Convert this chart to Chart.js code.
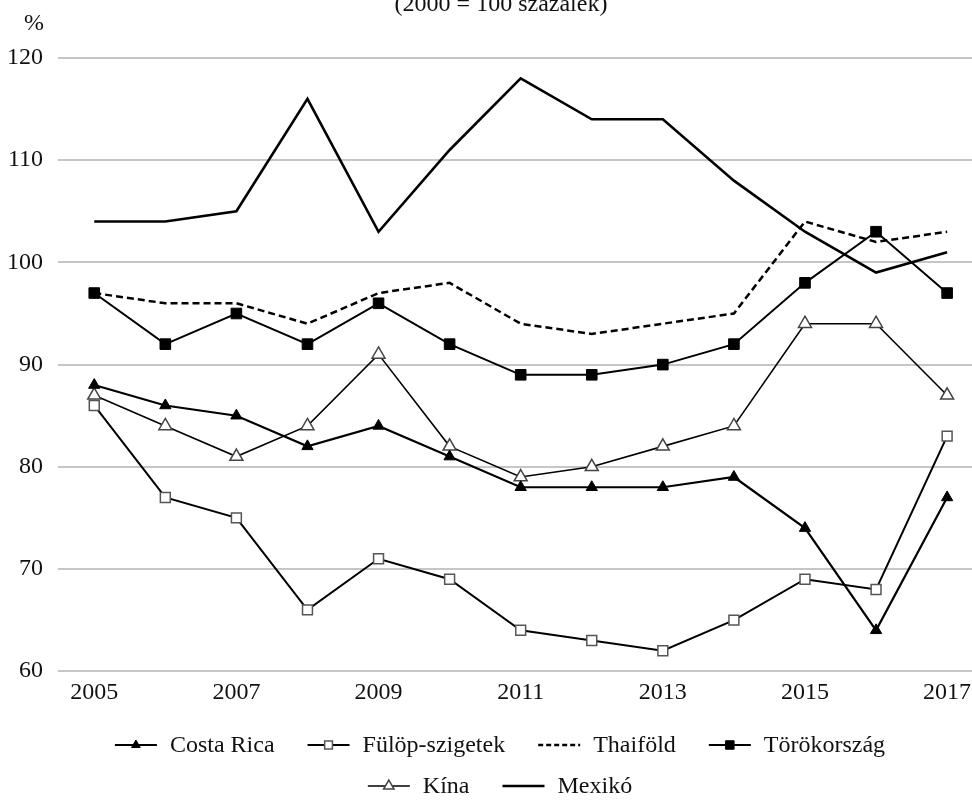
<!DOCTYPE html>
<html>
<head>
<meta charset="utf-8">
<script src="https://cdn.jsdelivr.net/npm/chart.js@4/dist/chart.umd.min.js"></script>
<style>
    html, body { margin: 0; padding: 0; background: #ffffff; }
    #wrap { width: 972px; height: 804px; position: relative; }
</style>
</head>
<body>
<div id="wrap"><canvas id="chart"></canvas></div>
<script>
const years = [2005, 2006, 2007, 2008, 2009, 2010, 2011, 2012, 2013, 2014, 2015, 2016, 2017];
const tickYears = [2005, 2007, 2009, 2011, 2013, 2015, 2017];

const costaRica = [88, 86, 85, 82, 84, 81, 78, 78, 78, 79, 74, 64, 77];
const fulopSzigetek = [86, 77, 75, 66, 71, 69, 64, 63, 62, 65, 69, 68, 83];
const thaifold = [97, 96, 96, 94, 97, 98, 94, 93, 94, 95, 104, 102, 103];
const torokorszag = [97, 92, 95, 92, 96, 92, 89, 89, 90, 92, 98, 103, 97];
const kina = [87, 84, 81, 84, 91, 82, 79, 80, 82, 84, 94, 94, 87];
const mexiko = [104, 104, 105, 116, 103, 111, 118, 114, 114, 108, 103, 99, 101];

const titleText = '(2000 = 100 százalék)';
const unitText = '%';

const FONT = '"Liberation Serif", "Times New Roman", serif';
const TEXT_SIZE = 24;

function points(values) {
    return values.map((v, i) => ({ x: years[i], y: v }));
}

function series(label, values, style) {
    return Object.assign({
        label: label,
        data: points(values),
        borderColor: '#000000',
        backgroundColor: '#000000',
        borderWidth: 2,
        pointBorderColor: '#000000',
        pointBorderWidth: 1,
        pointRadius: 0,
        pointHoverRadius: 0,
        tension: 0,
        fill: false
    }, style);
}

const datasets = [
    series('Costa Rica', costaRica, {
        borderWidth: 2.2, pointStyle: 'triangle', pointRadius: 6.5
    }),
    series('Fülöp-szigetek', fulopSzigetek, {
        borderWidth: 2, pointStyle: 'rect', pointRadius: 7,
        pointBackgroundColor: '#ffffff', pointBorderColor: '#555555', pointBorderWidth: 1.5
    }),
    series('Thaiföld', thaifold, {
        borderWidth: 2.5, borderDash: [7, 4]
    }),
    series('Törökország', torokorszag, {
        borderWidth: 2, pointStyle: 'rect', pointRadius: 7.5
    }),
    series('Kína', kina, {
        borderWidth: 1.6, pointStyle: 'triangle', pointRadius: 7.5,
        pointBackgroundColor: '#ffffff', pointBorderColor: '#444444', pointBorderWidth: 1.5
    }),
    series('Mexikó', mexiko, {
        borderWidth: 2.6
    })
];

// title, unit label and the two-row legend
const decorPlugin = {
    id: 'decor',
    afterDraw(chart) {
        const ctx = chart.ctx;
        ctx.save();
        ctx.fillStyle = '#111111';
        ctx.font = TEXT_SIZE + 'px ' + FONT;
        ctx.textBaseline = 'alphabetic';
        ctx.textAlign = 'center';
        ctx.fillText(titleText, 501, 11);
        ctx.fillText(unitText, 34, 30);

        const rows = [[0, 1, 2, 3], [4, 5]];
        const rowY = [745, 786];
        const symW = 42, gap = 13, spacing = 33, centerX = 500;
        ctx.textAlign = 'left';
        ctx.textBaseline = 'middle';
        rows.forEach((row, r) => {
            const widths = row.map(i => symW + gap + ctx.measureText(datasets[i].label).width);
            const total = widths.reduce((a, b) => a + b, 0) + spacing * (row.length - 1);
            let x = centerX - total / 2;
            const y = rowY[r];
            row.forEach((i, k) => {
                const ds = datasets[i];
                ctx.save();
                ctx.strokeStyle = '#000000';
                ctx.lineWidth = ds.borderWidth;
                ctx.setLineDash(ds.borderDash ? [5, 3] : []);
                ctx.beginPath();
                ctx.moveTo(x, y);
                ctx.lineTo(x + symW, y);
                ctx.stroke();
                ctx.restore();
                if (ds.pointRadius > 0) {
                    ctx.save();
                    ctx.fillStyle = ds.pointBackgroundColor || '#000000';
                    ctx.strokeStyle = ds.pointBorderColor || '#000000';
                    ctx.lineWidth = ds.pointBorderWidth || 1;
                    Chart.helpers.drawPoint(ctx, {
                        pointStyle: ds.pointStyle,
                        radius: ds.pointRadius - 1.5,
                        rotation: 0,
                        borderWidth: ds.pointBorderWidth || 1
                    }, x + symW / 2, y);
                    ctx.restore();
                }
                ctx.fillStyle = '#111111';
                ctx.fillText(ds.label, x + symW + gap, y + 1);
                x += widths[k] + spacing;
            });
        });
        ctx.restore();
    }
};

new Chart(document.getElementById('chart'), {
    type: 'line',
    data: { datasets: datasets },
    options: {
        responsive: true,
        maintainAspectRatio: false,
        animation: false,
        layout: {
            autoPadding: false,
            padding: { top: 58, left: 7, right: 0, bottom: 90 }
        },
        plugins: {
            legend: { display: false },
            tooltip: { enabled: false },
            title: { display: false }
        },
        scales: {
            x: {
                type: 'linear',
                min: 2004.49,
                max: 2017.35,
                afterBuildTicks: function(scale) {
                    scale.ticks = tickYears.map(v => ({ value: v }));
                },
                afterFit: function(scale) {
                    scale.paddingLeft = 0;
                    scale.paddingRight = 0;
                },
                grid: { display: false, drawTicks: false },
                border: { display: false },
                ticks: {
                    padding: 7,
                    maxRotation: 0,
                    autoSkip: false,
                    color: '#111111',
                    font: { family: FONT, size: TEXT_SIZE },
                    callback: function(value) { return String(value); }
                }
            },
            y: {
                min: 60,
                max: 120,
                afterFit: function(scale) {
                    scale.width = 51;
                },
                grid: { color: '#c6c6c6', lineWidth: 2, drawTicks: false },
                border: { display: false },
                ticks: {
                    stepSize: 10,
                    padding: 15,
                    color: '#111111',
                    font: { family: FONT, size: TEXT_SIZE }
                }
            }
        }
    },
    plugins: [decorPlugin]
});
</script>
</body>
</html>
